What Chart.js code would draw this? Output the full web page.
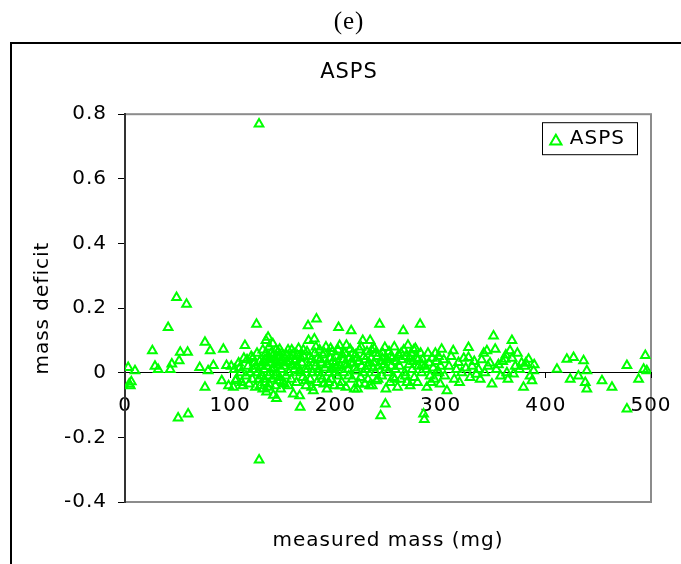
<!DOCTYPE html>
<html>
<head>
    <title>ASPS</title>
    <script src="https://cdn.jsdelivr.net/npm/chart.js@4.4.0/dist/chart.umd.min.js"></script>
    <style>
        body { margin: 0; background: #fff; overflow: hidden; }
        #panel { position: relative; width: 681px; height: 564px; overflow: hidden; }
        #frame { position: absolute; left: 10px; top: 42px; width: 720px; height: 620px; border: 2px solid #000; }
        #mass-chart { position: absolute; left: 0; top: 0; }
    </style>
</head>
<body>
<div id="panel">
    <div id="frame"></div>
    <canvas id="mass-chart" width="698" height="564"></canvas>
</div>

<script>
    // measured mass (mg)
    var massMg = [
        3, 4, 5, 6, 9.5,
        26, 28.5, 31.5, 41, 43, 44.5, 49, 50.5, 51.5, 52.5, 58.5, 59.5, 60,
        71, 76, 76, 79, 81, 84, 92, 93.5, 96.5, 98.5,
        103, 104, 106, 108, 110, 111, 113, 114, 115, 117, 118, 119, 120,
        121, 122, 123, 124, 125, 125.5, 126, 127, 127.4, 127.5, 128, 129, 130,
        131, 131, 132, 133, 133, 134, 134.5, 135, 136, 136, 136.5, 137, 137,
        138, 138.5, 139, 140, 140.5, 141, 141.5, 142, 143, 143.5, 144, 144.5,
        145, 146, 146.5, 147, 147.5, 148, 148.5, 149, 150,
        151, 152, 153, 154, 155, 155.5, 156, 157, 158, 159, 160, 160.5, 161,
        162, 163, 164, 165, 166, 166.5, 167, 168, 169, 170, 171, 172, 173,
        174, 174.5, 175, 176, 177, 178, 179, 180, 180.5, 181, 182, 182.5, 183,
        184, 185, 186, 187, 188, 189, 190, 191, 192, 193, 194, 195, 196, 197,
        198, 199, 200,
        201, 202, 203, 204, 205, 206, 207, 208, 209, 210, 211, 212, 213, 214,
        215, 216, 217, 218, 219, 220, 221, 222, 223, 224, 225, 226, 227, 228,
        229, 230, 231, 232, 233, 234, 235, 236, 237, 238, 239, 240, 241, 242,
        243, 243.5, 244, 245, 246, 247, 247.5, 248, 249, 250, 251, 252, 253,
        254, 255, 256, 257, 258, 259, 260,
        261, 262, 263, 264.5, 265, 266, 267, 268, 269, 270, 271, 272, 273, 274,
        275, 276, 277, 278, 279, 280.5, 281, 282, 283, 283.8, 284.5, 285, 287,
        288, 289, 290, 292, 293, 294, 296, 297, 298, 299.6, 300,
        301, 303, 304, 306, 308, 310, 312, 313, 315, 317, 318, 320, 322, 324,
        326.5, 326.5, 328, 330, 332, 334, 336, 337.6, 339, 341, 342, 344, 345,
        347, 348.8, 350.3, 351.9, 353, 355, 357, 359, 361.4, 362, 363, 364,
        366, 367.8, 368, 369.3, 371, 373, 375, 377, 378.8, 380, 381, 383.6,
        385, 386.8, 388.4, 389,
        410.6, 420, 423.2, 426.4, 431, 435.9, 437.5, 439, 439, 453.4, 462.9,
        477.1, 477.1, 488.2, 493, 494.6, 496,
        101, 105, 109, 112, 116, 121.5, 124.5, 128.5,
        130.5, 132.5, 134, 135.5, 137.5, 139.5, 141, 142.5, 144, 145.5, 147, 149.5,
        151.5, 153.5, 156.5, 158.5,
        161.5, 163.5, 165.5, 167.5, 169.5, 171.5, 173.5, 175.5, 177.5, 179.5,
        181.5, 183.5, 185.5, 187.5, 189.5, 191.5, 193.5, 195.5, 197.5, 199.5,
        200.5, 202.5, 204.5, 206.5, 208.5, 210.5, 212.5, 214.5, 216.5, 218.5,
        220.5, 222.5, 224.5, 226.5, 228.5, 230.5, 232.5, 234.5, 236.5, 238.5,
        240.5, 244.5, 248.5, 252.5, 256.5,
        262.5, 266.5, 270.5, 274.5, 278.5, 282.5, 286.5, 291, 295, 298.5
    ];

    // mass deficit
    var massDeficit = [
        0.016, -0.035, -0.04, -0.028, 0.006,
        0.068, 0.02, 0.01, 0.14, 0.01, 0.027, 0.233, -0.14, 0.037, 0.063, 0.212, 0.063, -0.128,
        0.016, 0.094, -0.045, 0.006, 0.068, 0.022, -0.025, 0.073, 0.022, -0.04,
        -0.045, 0.01, -0.02, 0.03, 0.0, -0.03, 0.045, 0.084, -0.01, 0.02, -0.035, 0.0, 0.05,
        -0.02, 0.01, 0.03, -0.045, 0.15, 0.06, 0.0, -0.02, 0.77, -0.27, 0.035, 0.02, -0.01,
        0.07, -0.05, 0.01, 0.04, -0.03, 0.1, -0.06, 0.02, 0.11, 0.05, -0.01, 0.08, -0.035,
        0.0, 0.03, 0.06, -0.02, 0.09, -0.07, 0.015, 0.04, -0.04, 0.07, -0.08, 0.0,
        0.025, 0.05, -0.015, 0.073, 0.035, -0.05, 0.01, 0.06, -0.03,
        0.02, 0.045, -0.01, 0.03, 0.07, -0.04, 0.0, 0.05, -0.02, 0.025, -0.066, 0.06, 0.01,
        0.04, -0.03, 0.02, 0.075, -0.071, -0.107, 0.0, 0.03, -0.015, 0.05, 0.01, -0.04, 0.065,
        0.145, 0.1, 0.02, -0.02, 0.04, 0.0, -0.056, 0.104, 0.06, 0.02, 0.166, -0.03, 0.045,
        0.01, 0.07, -0.01, 0.03, 0.055, -0.035, 0.015, 0.08, -0.05, 0.025, 0.0, 0.045, -0.02, 0.065,
        0.01, -0.04, 0.03,
        0.05, -0.01, 0.14, 0.084, 0.02, -0.03, 0.04, 0.0, 0.06, -0.045, 0.025, 0.01, 0.045, 0.073,
        0.13, -0.02, 0.03, -0.05, 0.055, 0.005, -0.05, 0.035, 0.07, -0.015, 0.02, 0.1, 0.05, -0.035,
        0.01, 0.065, -0.02, 0.03, 0.1, 0.045, -0.04, 0.015, 0.075, 0.0, -0.025, 0.05, 0.02, 0.15,
        -0.133, 0.035, -0.01, 0.06, 0.025, 0.078, -0.097, -0.05, 0.04, 0.0, 0.065, -0.03, 0.02,
        0.045, -0.015, 0.08, 0.01, 0.035, -0.045, 0.055,
        0.02, -0.02, 0.04, 0.13, 0.07, 0.0, 0.05, -0.03, 0.085, 0.025, -0.04, 0.06, 0.01, 0.035,
        -0.015, 0.075, 0.045, -0.03, 0.02, 0.15, 0.06, 0.0, 0.04, -0.128, -0.145, 0.02, -0.045,
        0.06, 0.03, -0.01, 0.045, 0.015, -0.02, 0.035, 0.005, 0.05, -0.035, 0.02,
        0.073, 0.04, -0.01, -0.056, 0.02, 0.05, 0.068, -0.02, 0.01, 0.032, -0.03, 0.0, 0.045, 0.015,
        0.078, 0.047, -0.015, 0.02, 0.035, -0.005, 0.01, -0.02, 0.04, 0.06, 0.0, 0.068, 0.02,
        0.03, -0.035, 0.114, 0.073, 0.01, 0.025, -0.01, 0.035, 0.042, 0.055, 0.0, -0.02,
        0.068, 0.1, 0.045, -0.004, 0.02, 0.06, 0.01, 0.03, -0.045, 0.02, 0.03, 0.042,
        -0.01, -0.025, 0.006, 0.025,
        0.011, 0.042, -0.02, 0.047, -0.01, 0.037, -0.03, 0.006, -0.05, -0.025, -0.045,
        0.022, -0.112, -0.02, 0.011, 0.053, 0.006,
        0.02, -0.025, 0.015, -0.04, 0.04, 0.045, 0.02, -0.04,
        0.03, -0.02, 0.06, -0.045, 0.045, 0.01, 0.055, -0.01, 0.03, 0.065, -0.025, 0.04,
        -0.035, 0.055, 0.035, 0.07,
        0.035, 0.055, 0.005, 0.045, 0.07, -0.025, 0.01, 0.05, -0.045, 0.03,
        0.08, 0.0, 0.04, -0.02, 0.06, 0.025, -0.03, 0.075, 0.035, 0.0,
        0.015, 0.07, -0.04, 0.055, 0.025, 0.085, -0.01, 0.03, 0.06, 0.015,
        0.045, -0.035, 0.08, 0.0, 0.04, 0.02, -0.04, 0.07, 0.03, 0.06,
        -0.02, 0.045, 0.015, 0.05, -0.02,
        0.06, -0.01, 0.045, 0.07, 0.04, 0.025, 0.01, -0.03, 0.06, 0.0
    ];

    var xTicks = [0, 100, 200, 300, 400, 500];
    var yTicks = [-0.4, -0.2, 0, 0.2, 0.4, 0.6, 0.8];

    var points = massMg.map(function (m, i) { return { x: m, y: massDeficit[i] }; });

    var labelFont = { family: 'DejaVu Sans', size: 20 };
    var green = '#00ff00';

    // Excel-like text: a little extra spacing between letters
    var spacedText = {
        id: 'spacedText',
        beforeUpdate: function (chart) { chart.ctx.letterSpacing = '1px'; },
        beforeDraw: function (chart) { chart.ctx.letterSpacing = '1px'; }
    };

    // grey plot-area border, plus the boxed legend in the top-right corner
    var plotFrame = {
        id: 'plotFrame',
        beforeDraw: function (chart) {
            var ctx = chart.ctx, a = chart.chartArea;
            ctx.save();
            ctx.strokeStyle = '#8c8c8c';
            ctx.lineWidth = 2;
            ctx.strokeRect(a.left, a.top, a.right - a.left, a.bottom - a.top);
            ctx.restore();
        },
        afterDraw: function (chart) {
            var ctx = chart.ctx, a = chart.chartArea;
            var ds = chart.data.datasets[0];
            ctx.save();
            ctx.letterSpacing = '1px';
            ctx.font = labelFont.size + 'px "' + labelFont.family + '"';
            var textW = ctx.measureText(ds.label).width;
            var w = 7 + 14 + 7 + textW + 12;
            var h = 32;
            var right = a.right - 14, top = a.top + 8;
            var left = right - w;
            ctx.fillStyle = '#fff';
            ctx.fillRect(left, top, w, h);
            ctx.strokeStyle = '#000';
            ctx.lineWidth = 1;
            ctx.strokeRect(Math.round(left) + 0.5, top + 0.5, Math.round(w), h);
            Chart.helpers.drawPoint(ctx, {
                pointStyle: ds.pointStyle,
                radius: 6.5,
                borderWidth: 2
            }, left + 14, top + 19);
            ctx.strokeStyle = ds.borderColor;
            ctx.lineWidth = 2;
            ctx.stroke();
            ctx.fillStyle = '#000';
            ctx.textBaseline = 'middle';
            ctx.textAlign = 'left';
            ctx.fillText(ds.label, left + 28, top + 17);
            ctx.restore();
        }
    };

    var ctx = document.getElementById('mass-chart').getContext('2d');
    var chart = new Chart(ctx, {
        type: 'scatter',
        data: {
            datasets: [{
                label: 'ASPS',
                data: points,
                showLine: false,
                pointStyle: 'triangle',
                pointRadius: 5,
                pointBorderWidth: 2,
                borderColor: green,
                backgroundColor: 'rgba(0,0,0,0)'
            }]
        },
        plugins: [spacedText, plotFrame],
        options: {
            responsive: false,
            animation: false,
            layout: { padding: 0 },
            plugins: {
                title: {
                    display: true,
                    text: '(e)',
                    color: '#000',
                    font: { family: 'Liberation Serif', size: 25, weight: 'normal' },
                    padding: { top: 7, bottom: 0 }
                },
                subtitle: {
                    display: true,
                    text: 'ASPS',
                    color: '#000',
                    font: { family: 'DejaVu Sans', size: 21 },
                    padding: { top: 23, bottom: 29 }
                },
                legend: { display: false },
                tooltip: { enabled: false }
            },
            scales: {
                x: {
                    type: 'linear',
                    position: { y: 0 },
                    min: xTicks[0],
                    max: xTicks[xTicks.length - 1],
                    afterBuildTicks: function (s) { s.ticks = xTicks.map(function (v) { return { value: v }; }); },
                    grid: { drawOnChartArea: false, tickLength: 5, color: '#000' },
                    border: { color: '#000', width: 1 },
                    ticks: { font: labelFont, color: '#000', padding: 16, maxRotation: 0, autoSkip: false }
                },
                xTitle: {
                    type: 'linear',
                    axis: 'x',
                    position: 'bottom',
                    min: xTicks[0],
                    max: xTicks[xTicks.length - 1],
                    grid: { display: false },
                    border: { display: false },
                    ticks: { display: false },
                    title: { display: true, text: 'measured mass (mg)', color: '#000', font: labelFont, padding: { top: 0, bottom: 11 } },
                    afterFit: function (s) { s.height = 62; }
                },
                y: {
                    type: 'linear',
                    position: 'left',
                    min: yTicks[0],
                    max: yTicks[yTicks.length - 1],
                    afterBuildTicks: function (s) { s.ticks = yTicks.map(function (v) { return { value: v }; }); },
                    grid: { drawOnChartArea: false, tickLength: 7, color: '#000' },
                    border: { color: '#333', width: 2 },
                    ticks: { font: labelFont, color: '#000', padding: 11, callback: function (v) { return String(v); } },
                    title: { display: true, text: 'mass deficit', color: '#000', font: labelFont, padding: { top: 31, bottom: 0 } },
                    afterFit: function (s) { s.width = 125; }
                },
                yRight: {
                    type: 'linear',
                    axis: 'y',
                    position: 'right',
                    grid: { display: false },
                    border: { display: false },
                    ticks: { display: false },
                    afterFit: function (s) { s.width = 47; }
                }
            }
        }
    });
</script>
</body>
</html>
